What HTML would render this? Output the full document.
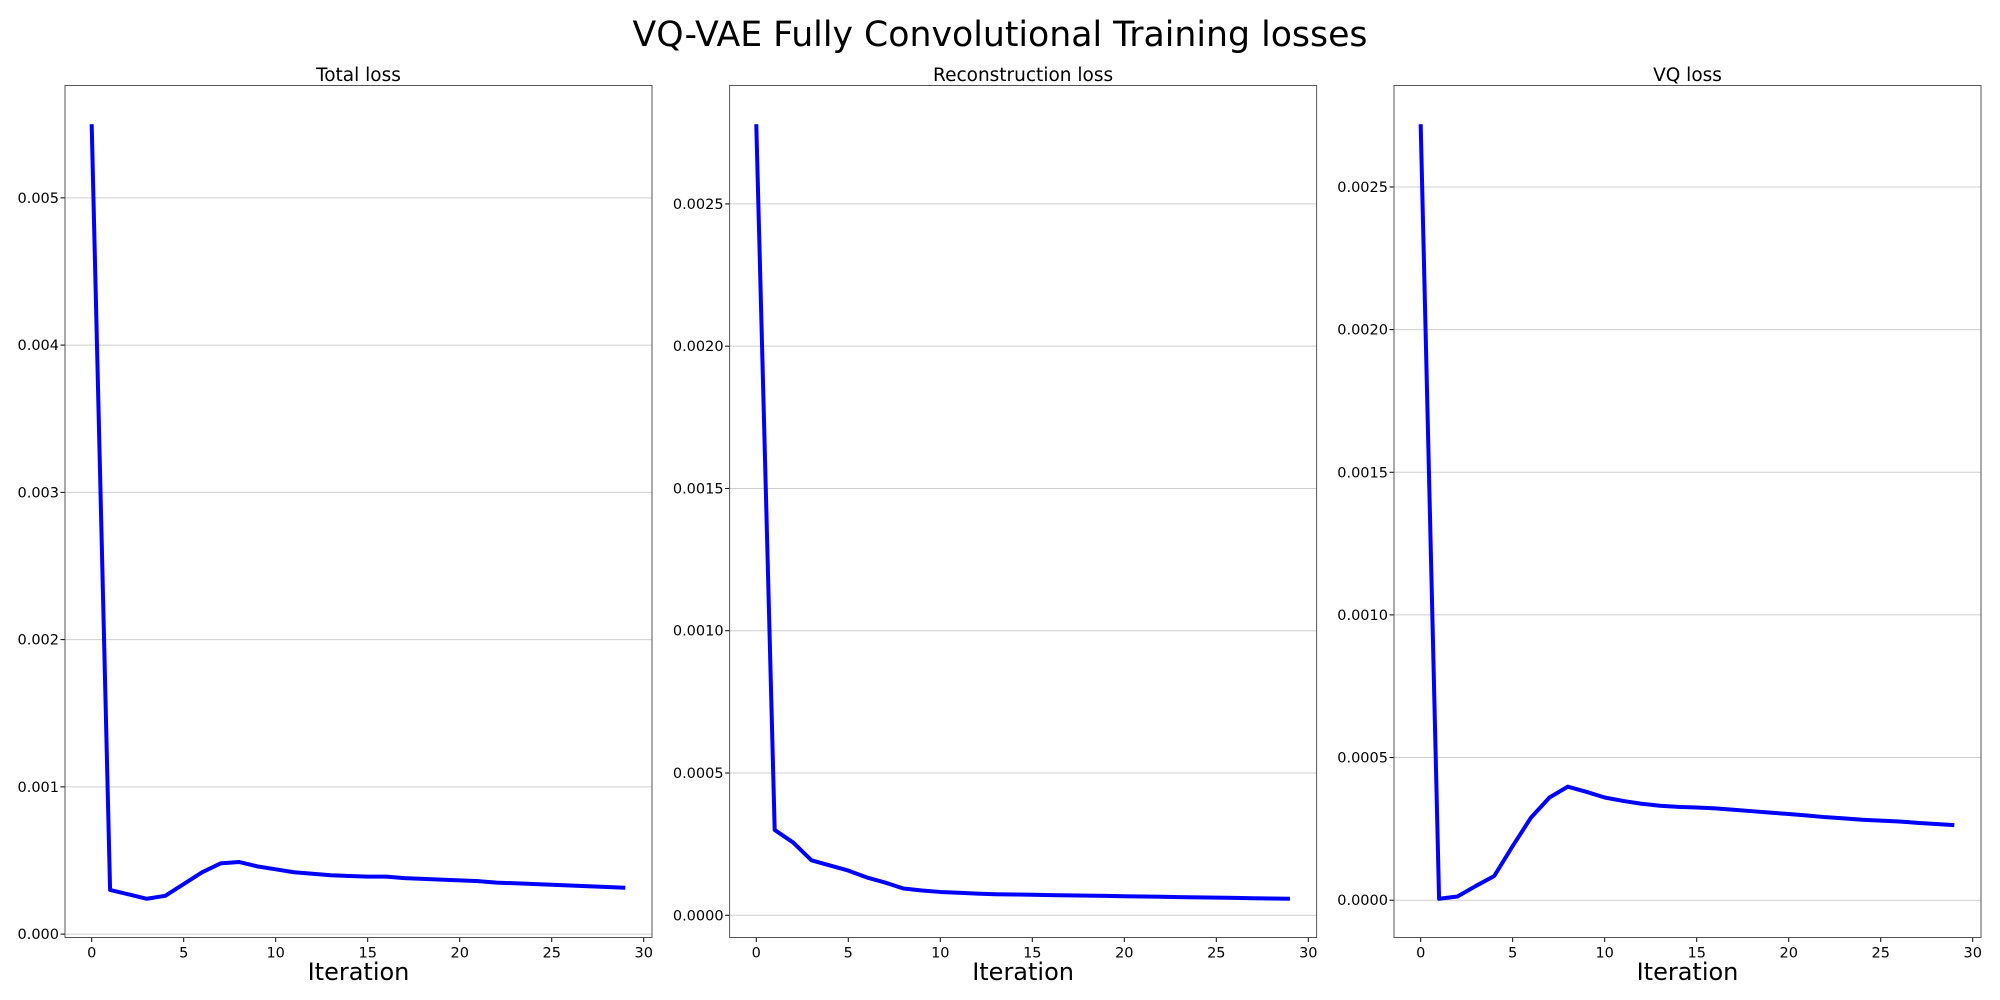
<!DOCTYPE html>
<html><head><meta charset="utf-8"><style>
html,body{margin:0;padding:0;background:#fff;}
svg{display:block;font-family:"DejaVu Sans","Liberation Sans",sans-serif;}
</style></head><body>
<svg id="fig" width="2000" height="1000" viewBox="0 0 2000 1000">
<text x="1000" y="46" text-anchor="middle" font-size="34.7">VQ-VAE Fully Convolutional Training losses</text>
</svg>
<script>
const iterations = Array.from({length:30},(_,i)=>i);
const totalLoss = [0.0055,0.00030,0.00027,0.00024,0.00026,0.00034,0.00042,0.00048,0.00049,0.00046,0.00044,0.00042,0.00041,0.000400,0.000395,0.00039,0.00039,0.00038,0.000375,0.00037,0.000365,0.00036,0.00035,0.000345,0.00034,0.000335,0.00033,0.000325,0.00032,0.000315];
const reconLoss = [0.00278,0.000300,0.000256,0.000193,0.000175,0.000157,0.000133,0.000115,0.000094,0.000087,0.000082,0.000079,0.000076,0.000074,0.000073,0.000072,0.000071,0.000070,0.000069,0.000068,0.000067,0.000066,0.000065,0.000064,0.000063,0.000062,0.000061,0.000060,0.000059,0.000058];
const vqLoss = [0.00272,0.000005,0.000013,0.00005,0.000085,0.00019,0.00029,0.00036,0.000398,0.00038,0.00036,0.000348,0.000338,0.000331,0.000327,0.000325,0.000322,0.000317,0.000312,0.000307,0.000302,0.000297,0.000291,0.000287,0.000282,0.000279,0.000276,0.000271,0.000267,0.000263];
const xTicks = [0,5,10,15,20,25,30];
const yTicksTotal = [0,0.001,0.002,0.003,0.004,0.005];
const yTicksSmall = [0,0.0005,0.001,0.0015,0.002,0.0025];
const titles = ["Total loss","Reconstruction loss","VQ loss"];

const NS="http://www.w3.org/2000/svg";
const svg=document.getElementById('fig');
function mk(tag,attrs,parent){const e=document.createElementNS(NS,tag);for(const k in attrs)e.setAttribute(k,attrs[k]);(parent||svg).appendChild(e);return e;}

const panels=[
 {left:65,data:totalLoss,ticks:yTicksTotal,dec:3,name:'total-loss'},
 {left:729.6,data:reconLoss,ticks:yTicksSmall,dec:4,name:'reconstruction-loss'},
 {left:1394,data:vqLoss,ticks:yTicksSmall,dec:4,name:'vq-loss'}
];
const W=587,TOP=85.5,BOT=937.5;
panels.forEach((p,pi)=>{
  const g=mk('g',{});
  
  
  const x0=-1.45,x1=30.45;
  const mn=Math.min(...p.data),mx=Math.max(...p.data),m=(mx-mn)*0.05;
  const y0=mn-m,y1=mx+m;
  const sx=v=>p.left+(v-x0)/(x1-x0)*W;
  const sy=v=>BOT-(v-y0)/(y1-y0)*(BOT-TOP);
  p.ticks.forEach(t=>{
    const y=sy(t);
    const gl=mk('line',{x1:p.left,x2:p.left+W,y1:y,y2:y,stroke:'#cfcfcf','stroke-width':1},g);
    
    
    mk('line',{x1:p.left-4.5,x2:p.left,y1:y,y2:y,stroke:'#000','stroke-width':1},g);
    const tl=mk('text',{x:p.left-6,y:y+5,'text-anchor':'end','font-size':14.5},g);
    tl.textContent=t.toFixed(p.dec);
    
    
  });
  xTicks.forEach(t=>{
    const x=sx(t);
    mk('line',{x1:x,x2:x,y1:BOT,y2:BOT+4.5,stroke:'#000','stroke-width':1},g);
    const tl=mk('text',{x:x,y:BOT+20,'text-anchor':'middle','font-size':14.5},g);
    tl.textContent=t;
    
    
  });
  const pts=p.data.map((v,i)=>sx(iterations[i]).toFixed(2)+','+sy(v).toFixed(2)).join(' ');
  const line=mk('polyline',{points:pts,fill:'none',stroke:'#0000ff','stroke-width':4,'stroke-linejoin':'round'},g);
  
  
  const fr=mk('rect',{x:p.left,y:TOP,width:W,height:BOT-TOP,fill:'none',stroke:'#555','stroke-width':1},g);
  
  
  const tt=mk('text',{x:p.left+W/2,y:81,'text-anchor':'middle','font-size':18.5},g);
  tt.textContent=titles[pi];
  
  
  const xl=mk('text',{x:p.left+W/2,y:980,'text-anchor':'middle','font-size':24},g);
  xl.textContent='Iteration';
  
  
});
</script>
</body></html>
